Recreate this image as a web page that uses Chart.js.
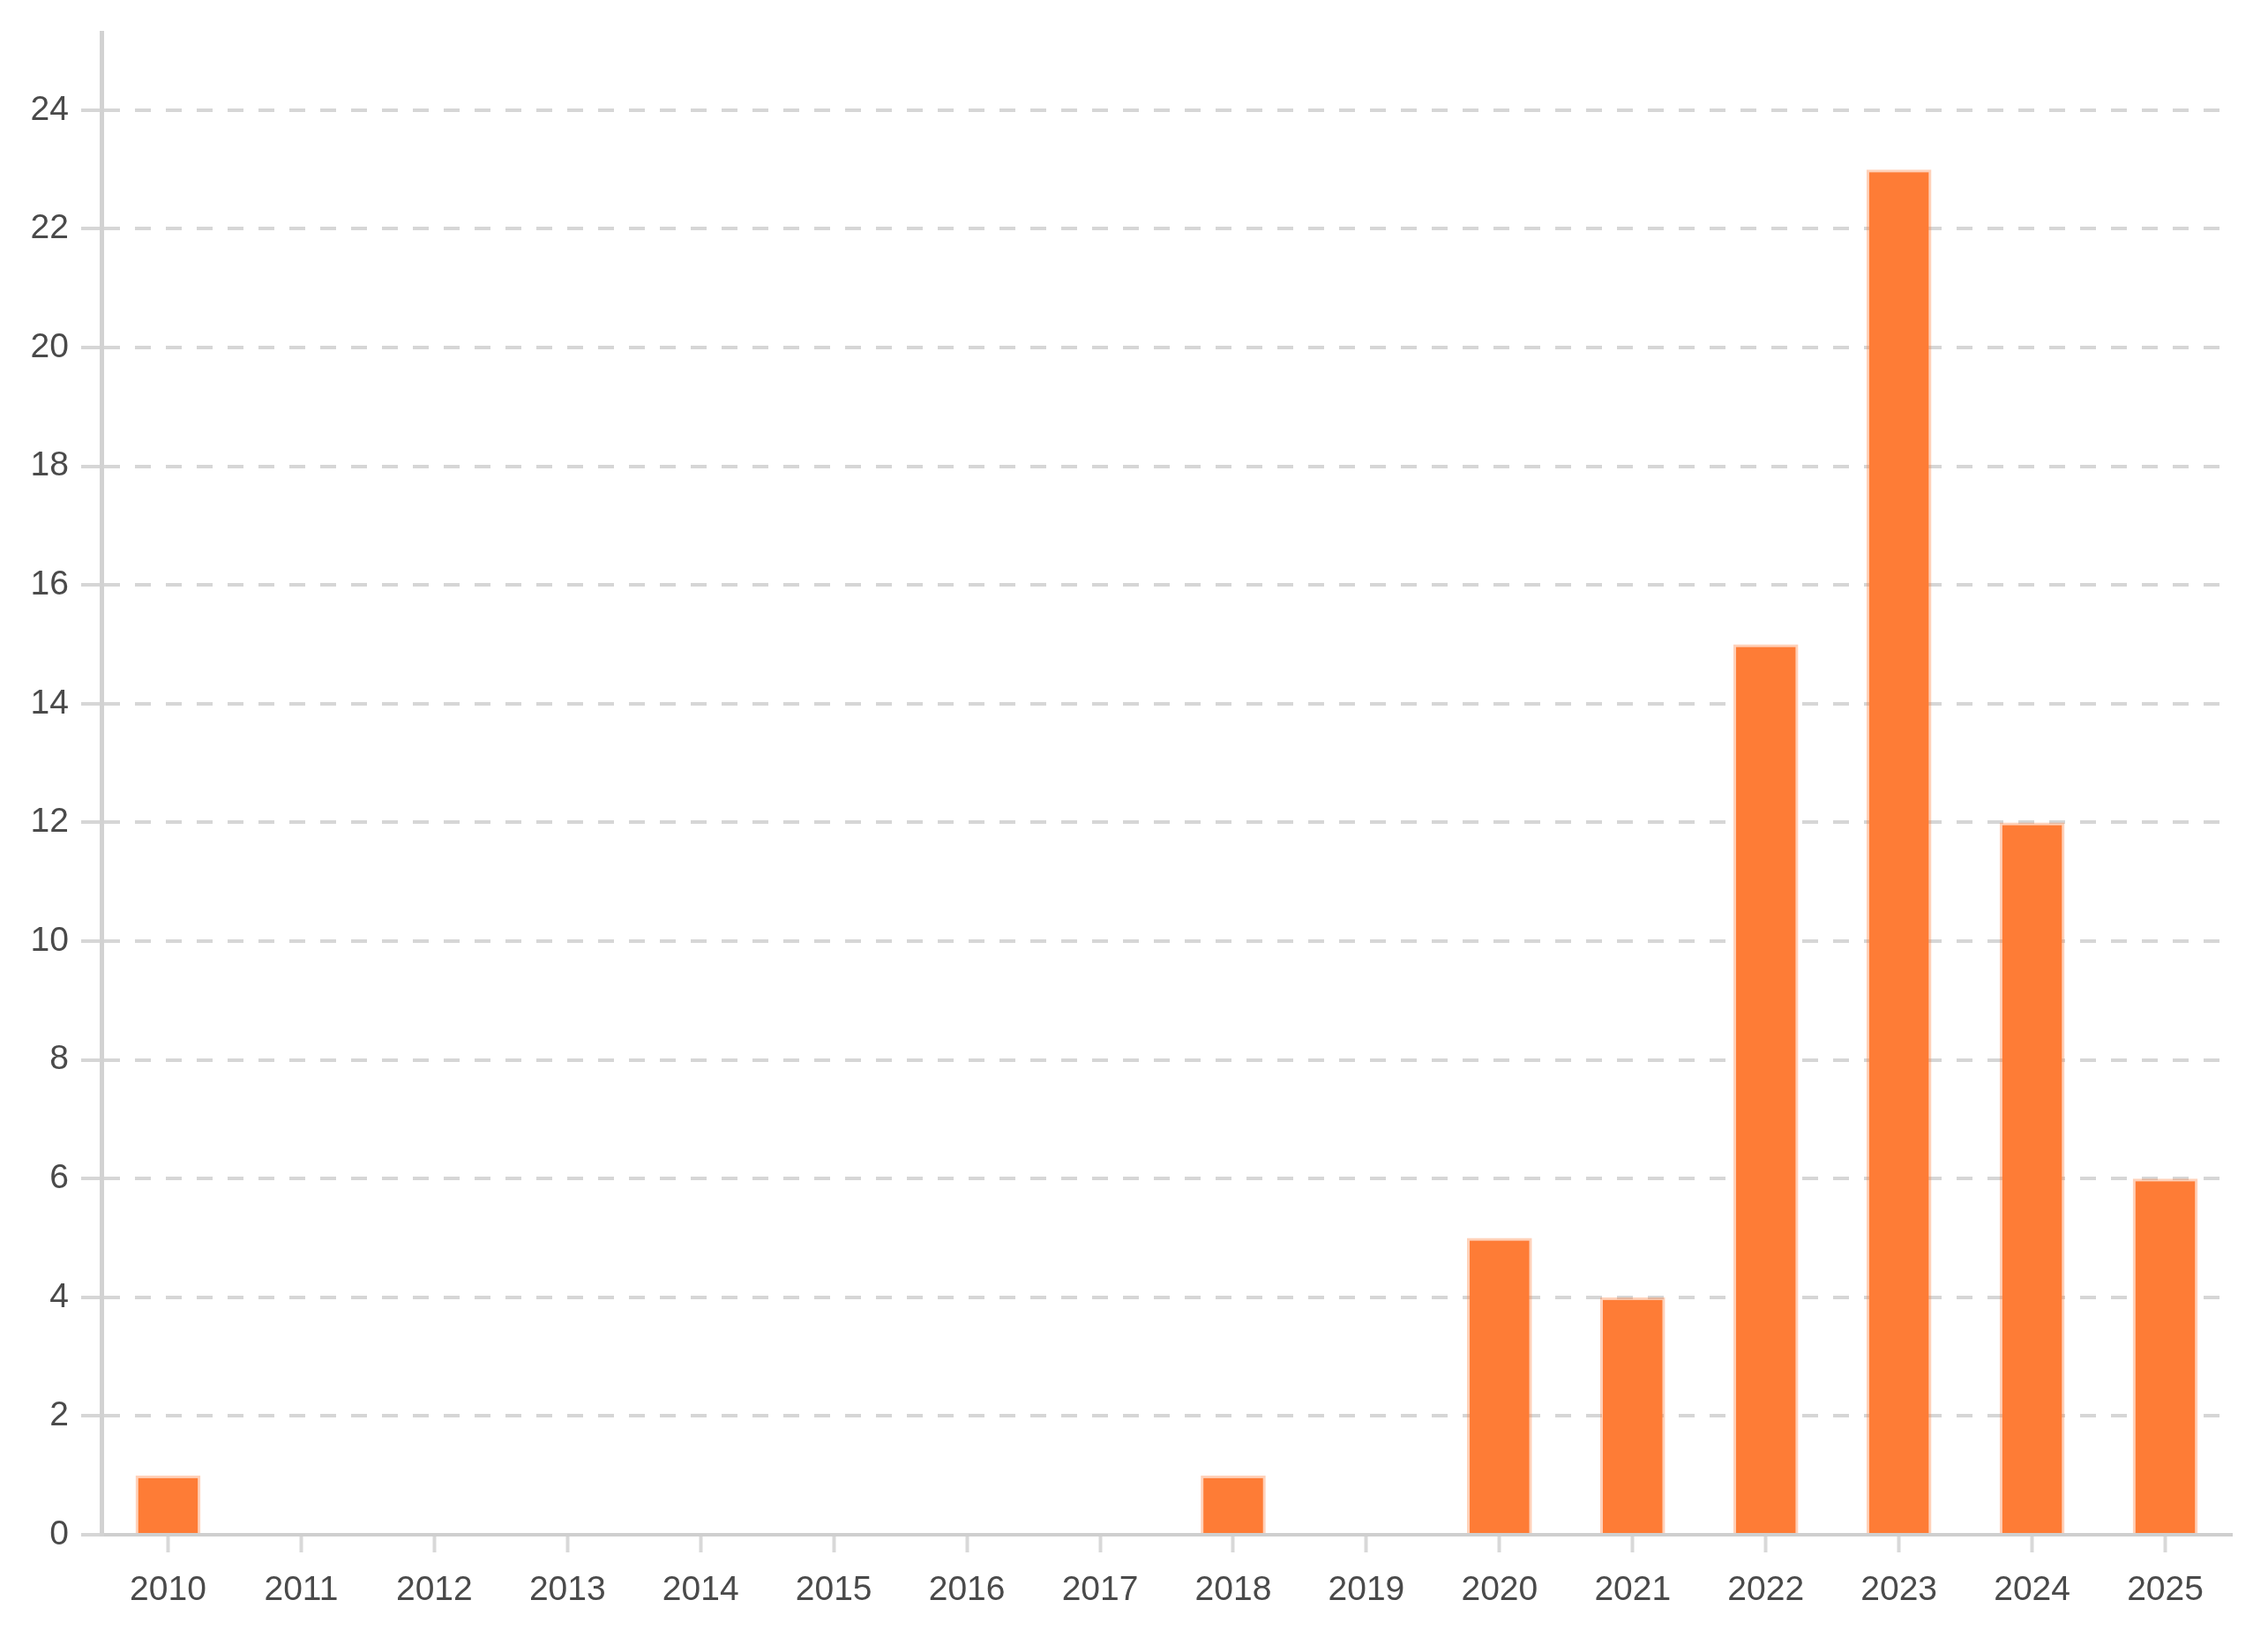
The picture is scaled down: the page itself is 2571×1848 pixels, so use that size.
<!DOCTYPE html>
<html>
<head>
<meta charset="utf-8">
<script src="https://cdn.jsdelivr.net/npm/chart.js@4/dist/chart.umd.min.js"></script>
<style>
  html, body { margin: 0; padding: 0; background: #fff; }
  #wrap { width: 2571px; height: 1848px; }
</style>
</head>
<body>
<div id="wrap"><canvas id="c" width="2571" height="1848"></canvas></div>
<script>
const categories = ['2010','2011','2012','2013','2014','2015','2016','2017','2018','2019','2020','2021','2022','2023','2024','2025'];
const counts = [1,0,0,0,0,0,0,0,1,0,5,4,15,23,12,6];
const yMax = 25.3;
const yStep = 2;

const ctx = document.getElementById('c').getContext('2d');
new Chart(ctx, {
  type: 'bar',
  data: {
    labels: categories,
    datasets: [{
      data: counts,
      backgroundColor: '#fe7c36',
      borderColor: 'rgba(254,124,54,0.35)',
      borderWidth: 3,
      categoryPercentage: 0.8,
      barPercentage: 0.61
    }]
  },
  options: {
    responsive: false,
    animation: false,
    devicePixelRatio: 1,
    layout: { padding: { left: 0, top: 37, right: 41, bottom: 0 } },
    plugins: { legend: { display: false }, tooltip: { enabled: false }, title: { display: false } },
    scales: {
      x: {
        afterFit: s => { s.height = 108; },
        grid: {
          display: true,
          drawOnChartArea: false,
          drawTicks: true,
          offset: false,
          tickLength: 20,
          tickColor: '#d8d8d8',
          tickWidth: 4
        },
        border: { display: true, color: '#cfcfcf', width: 4 },
        ticks: {
          color: '#4a4a4a',
          font: { family: 'Liberation Sans', size: 39 },
          padding: 20,
          maxRotation: 0,
          autoSkip: false
        }
      },
      y: {
        min: 0,
        max: yMax,
        afterFit: s => { s.width = 115; },
        grid: {
          color: '#d6d6d6',
          lineWidth: 4,
          borderDash: [18, 17],
          tickBorderDash: [],
          tickLength: 23,
          tickColor: '#d6d6d6',
          tickWidth: 4
        },
        border: { display: true, color: '#d2d2d2', width: 5, dash: [18, 17] },
        ticks: {
          stepSize: yStep,
          includeBounds: false,
          color: '#4a4a4a',
          font: { family: 'Liberation Sans', size: 39 },
          padding: 14
        }
      }
    }
  }
});
</script>
</body>
</html>
